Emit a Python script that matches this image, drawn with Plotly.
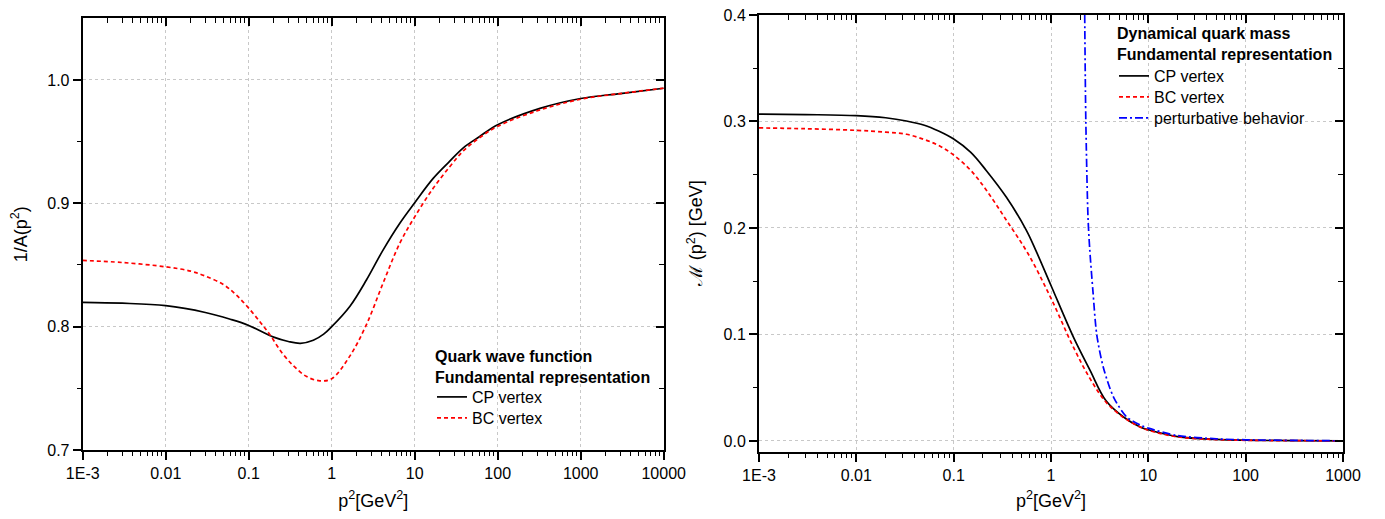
import plotly.graph_objects as go

# ---------------- data ----------------
left_x = [0.001, 0.003, 0.01, 0.03, 0.06, 0.1, 0.2, 0.3, 0.42, 0.6, 0.8, 1.0, 1.66, 2.63, 4.17, 6.62,
          10, 16.6, 26.3, 38.5, 60, 100, 323, 1000, 3000, 10000]
left_cp = [0.8197, 0.819, 0.817, 0.8115, 0.806, 0.8010, 0.7915, 0.788, 0.7865, 0.789, 0.794, 0.800,
           0.8166, 0.838, 0.8623, 0.8839, 0.9005, 0.920, 0.934, 0.945, 0.954, 0.9637, 0.977, 0.985, 0.989, 0.9933]

left_bx = [0.001, 0.003, 0.01, 0.02, 0.03, 0.05, 0.07, 0.1, 0.14, 0.18, 0.25, 0.35, 0.5, 0.72, 1.0,
           1.66, 2.63, 4.17, 6.62, 10, 16.6, 26.3, 38.5, 60, 100, 300, 1000, 3000, 10000]
left_bc = [0.8537, 0.852, 0.8485, 0.845, 0.841, 0.834, 0.826, 0.815, 0.803, 0.7935, 0.779, 0.768,
           0.7595, 0.7561, 0.7578, 0.7763, 0.8019, 0.8355, 0.8677, 0.889, 0.912, 0.9295, 0.9425, 0.953,
           0.9624, 0.975, 0.9844, 0.989, 0.9933]

right_x = [0.001, 0.003, 0.01, 0.02, 0.0327, 0.05, 0.07, 0.1, 0.15, 0.216, 0.347, 0.557, 0.70, 1.0,
           1.70, 2.52, 3.66, 5.56, 8.25, 10, 20, 50, 100, 1000]
right_cp = [0.307, 0.3065, 0.3055, 0.3035, 0.3005, 0.2965, 0.291, 0.2835, 0.271, 0.254, 0.229, 0.198,
            0.1787, 0.146, 0.0975, 0.0663, 0.038, 0.0225, 0.0131, 0.0105, 0.0040, 0.0014, 0.0007, 0.0001]
right_bx = [0.001, 0.003, 0.01, 0.02, 0.0327, 0.05, 0.07, 0.1, 0.15, 0.216, 0.347, 0.58, 1.0, 1.70,
            2.52, 3.66, 5.56, 8.25, 10, 20, 50, 100, 1000]
right_bc = [0.294, 0.2932, 0.2917, 0.290, 0.288, 0.283, 0.2775, 0.2685, 0.254, 0.2357, 0.2075, 0.176,
            0.134, 0.088, 0.0585, 0.0366, 0.022, 0.013, 0.0100, 0.0038, 0.0013, 0.0006, 0.0001]

pert_x = [2.22, 2.28, 2.4, 2.5, 2.7, 2.95, 3.45, 4.4, 6.0, 8.25, 10, 20, 50, 100, 1000]
pert_y = [0.40, 0.30, 0.21, 0.18, 0.14, 0.10, 0.069, 0.041, 0.0225, 0.015, 0.012, 0.005, 0.002, 0.0011, 0.00012]

left_ticks = [1e-3, 1e-2, 1e-1, 1, 10, 100, 1000, 10000]
left_ticktext = ["1E-3", "0.01", "0.1", "1", "10", "100", "1000", "10000"]
right_ticks = [1e-3, 1e-2, 1e-1, 1, 10, 100, 1000]
right_ticktext = ["1E-3", "0.01", "0.1", "1", "10", "100", "1000"]
left_yticks = [0.7, 0.8, 0.9, 1.0]
left_yticktext = ["0.7", "0.8", "0.9", "1.0"]
right_yticks = [0.0, 0.1, 0.2, 0.3, 0.4]
right_yticktext = ["0.0", "0.1", "0.2", "0.3", "0.4"]

# ---------------- layout helpers ----------------
OFF = 8            # page body margin
W, H = 1369, 503   # figure size (fits inside the 1385x519 window with the body margin)
FONT = "Liberation Sans, Arial, sans-serif"


def PX(xs):
    return (xs - OFF) / W


def PY(ys):
    return 1 - (ys - OFF) / H


def minor_vals(lo, hi):
    out = []
    for e in range(lo, hi):
        for m in range(2, 10):
            out.append(m * 10 ** e)
    return out


RED = "#ff0000"
BLUE = "#0000ff"
LW = 1.7

fig = go.Figure()
fig.add_trace(go.Scatter(x=left_x, y=left_cp, mode="lines", name="CP vertex",
                         line=dict(color="black", width=LW, shape="spline", smoothing=1.0),
                         xaxis="x", yaxis="y", legend="legend"))
fig.add_trace(go.Scatter(x=left_bx, y=left_bc, mode="lines", name="BC vertex",
                         line=dict(color=RED, width=LW, dash="4px,3px", shape="spline", smoothing=1.0),
                         xaxis="x", yaxis="y", legend="legend3"))
fig.add_trace(go.Scatter(x=right_x, y=right_cp, mode="lines", name="CP vertex",
                         line=dict(color="black", width=LW, shape="spline", smoothing=1.0),
                         xaxis="x2", yaxis="y2", legend="legend2"))
fig.add_trace(go.Scatter(x=right_bx, y=right_bc, mode="lines", name="BC vertex",
                         line=dict(color=RED, width=LW, dash="4px,3px", shape="spline", smoothing=1.0),
                         xaxis="x2", yaxis="y2", legend="legend4"))
fig.add_trace(go.Scatter(x=pert_x, y=pert_y, mode="lines", name="perturbative behavior",
                         line=dict(color=BLUE, width=LW, dash="8px,3px,2px,3px", shape="spline", smoothing=0.8),
                         xaxis="x2", yaxis="y2", legend="legend5"))
# invisible traces to activate the mirror-tick axes
fig.add_trace(go.Scatter(x=[1], y=[0.8], xaxis="x3", yaxis="y3", mode="markers", marker=dict(opacity=0),
                         showlegend=False, hoverinfo="skip"))
fig.add_trace(go.Scatter(x=[1], y=[0.1], xaxis="x4", yaxis="y4", mode="markers", marker=dict(opacity=0),
                         showlegend=False, hoverinfo="skip"))

xd1 = [PX(82.7), PX(663.7)]
yd1 = [PY(450), PY(18.3)]
xd2 = [PX(759), PX(1343)]
yd2 = [PY(451.6), PY(15)]

YR1 = [0.7, 1.05]
YR2 = [-0.01, 0.4]

grid = dict(showgrid=True, gridcolor="#c8c8c8", gridwidth=1, griddash="dot")
tickf = dict(family=FONT, size=16, color="black")
titlef = dict(family=FONT, size=18, color="black")

common = dict(showline=True, linecolor="black", linewidth=2, mirror=True,
              ticks="outside", ticklen=8, tickwidth=1.5, tickcolor="black", tickfont=tickf,
              zeroline=False, automargin=False, ticklabeloverflow="allow", **grid)
mirror_common = dict(showticklabels=False, ticks="inside", ticklen=8, tickwidth=1.5, tickcolor="black",
                     showgrid=False, showline=False, zeroline=False)


def minor_out(vals):
    return dict(tickvals=vals, ticks="outside", ticklen=4, tickwidth=1.2, tickcolor="black", showgrid=False)


def minor_in(vals):
    return dict(tickvals=vals, ticks="inside", ticklen=5, tickwidth=1.2, tickcolor="black", showgrid=False)


legend_common = dict(xanchor="left", yanchor="middle", bgcolor="rgba(0,0,0,0)", borderwidth=0,
                     font=dict(family=FONT, size=16, color="black"), itemwidth=30)

fig.update_layout(
    width=W, height=H,
    margin=dict(l=0, r=0, t=0, b=0),
    paper_bgcolor="white", plot_bgcolor="white",
    font=dict(family=FONT, color="black"),
    xaxis=dict(domain=xd1, anchor="y", type="log", range=[-3, 4], tickvals=left_ticks, ticktext=left_ticktext,
               minor=minor_out(minor_vals(-3, 4)),
               title=dict(text="p<sup>2</sup>[GeV<sup>2</sup>]", font=titlef, standoff=15), **common),
    yaxis=dict(domain=yd1, anchor="x", range=YR1, tickvals=left_yticks, ticktext=left_yticktext,
               minor=minor_out([0.75, 0.85, 0.95]),
               title=dict(text="1/A(p<sup>2</sup>)", font=titlef, standoff=20), **common),
    xaxis2=dict(domain=xd2, anchor="y2", type="log", range=[-3, 3], tickvals=right_ticks, ticktext=right_ticktext,
                minor=minor_out(minor_vals(-3, 3)),
                title=dict(text="p<sup>2</sup>[GeV<sup>2</sup>]", font=titlef, standoff=15), **common),
    yaxis2=dict(domain=yd2, anchor="x2", range=YR2, tickvals=right_yticks, ticktext=right_yticktext,
                minor=minor_out([0.05, 0.15, 0.25, 0.35]),
                title=dict(text="ℳ (p<sup>2</sup>) [GeV]", font=titlef, standoff=16), **common),
    xaxis3=dict(type="log", overlaying="x", anchor="y", side="top", range=[-3, 4], tickvals=left_ticks,
                minor=minor_in(minor_vals(-3, 4)), **mirror_common),
    yaxis3=dict(overlaying="y", anchor="x", side="right", range=YR1, tickvals=left_yticks,
                minor=minor_in([0.75, 0.85, 0.95]), **mirror_common),
    xaxis4=dict(type="log", overlaying="x2", anchor="y2", side="top", range=[-3, 3], tickvals=right_ticks,
                minor=minor_in(minor_vals(-3, 3)), **mirror_common),
    yaxis4=dict(overlaying="y2", anchor="x2", side="right", range=YR2, tickvals=right_yticks,
                minor=minor_in([0.05, 0.15, 0.25, 0.35]), **mirror_common),
    legend=dict(x=PX(432), y=PY(397), **legend_common),
    legend3=dict(x=PX(432), y=PY(418), **legend_common),
    legend2=dict(x=PX(1114), y=PY(76), **legend_common),
    legend4=dict(x=PX(1114), y=PY(97), **legend_common),
    legend5=dict(x=PX(1114), y=PY(118), **legend_common),
    showlegend=True,
    annotations=[
        dict(text="<b>Quark wave function<br>Fundamental representation</b>", xref="paper", yref="paper",
             x=PX(433), y=PY(366.5), xanchor="left", yanchor="middle", align="left", showarrow=False,
             font=dict(family=FONT, size=16, color="black")),
        dict(text="<b>Dynamical quark mass<br>Fundamental representation</b>", xref="paper", yref="paper",
             x=PX(1115), y=PY(44.5), xanchor="left", yanchor="middle", align="left", showarrow=False,
             font=dict(family=FONT, size=16, color="black")),
    ],
)

fig.write_html("out.html")
